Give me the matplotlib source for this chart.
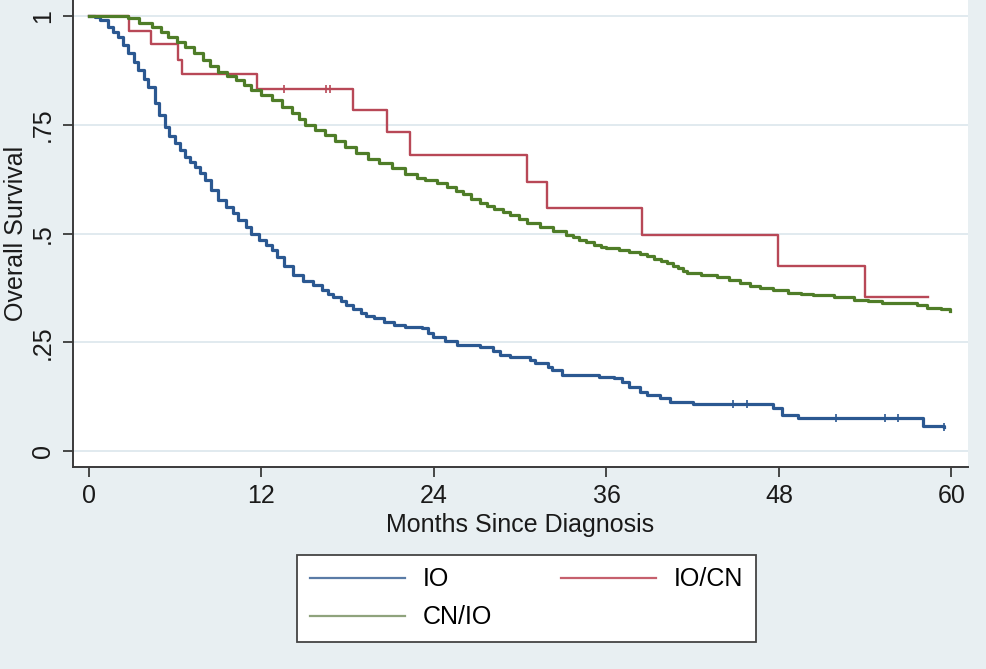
import matplotlib
matplotlib.use('Agg')
from matplotlib import pyplot as plt
from matplotlib.lines import Line2D

plt.rcParams['font.family'] = ['Liberation Sans', 'DejaVu Sans']

# Kaplan-Meier curves (months, survival)
io_t = [0, 0.4, 0.8, 1.3, 1.7, 2.0, 2.4, 2.7, 3.1, 3.4, 3.8, 4.1, 4.6, 4.9, 5.3,
        5.6, 6.0, 6.3, 6.7, 7.0, 7.4, 7.7, 8.1, 8.5, 9.0, 9.5, 10.0, 10.4, 10.9,
        11.3, 11.8, 12.3, 12.7, 13.1, 13.6, 14.2, 14.9, 15.6, 16.2, 16.6, 17.0,
        17.5, 17.9, 18.4, 18.9, 19.3, 19.8, 20.5, 21.2, 22.0, 23.2, 23.6, 23.9,
        24.8, 25.6, 27.2, 28.1, 28.6, 29.3, 30.7, 31.0, 31.9, 32.2, 32.9, 35.5,
        36.5, 37.1, 37.6, 38.3, 38.8, 39.7, 40.4, 42.0, 47.6, 48.2, 49.3, 58.0,
        59.5]
io_s = [1.0, 0.997, 0.99, 0.975, 0.963, 0.952, 0.934, 0.915, 0.895, 0.876,
        0.856, 0.837, 0.80, 0.772, 0.745, 0.725, 0.708, 0.692, 0.676, 0.665,
        0.653, 0.638, 0.623, 0.600, 0.577, 0.562, 0.547, 0.531, 0.515, 0.50,
        0.485, 0.473, 0.462, 0.446, 0.425, 0.405, 0.39, 0.382, 0.37, 0.362,
        0.354, 0.345, 0.335, 0.326, 0.317, 0.311, 0.305, 0.297, 0.29, 0.285,
        0.283, 0.272, 0.262, 0.252, 0.244, 0.239, 0.230, 0.221, 0.216, 0.209,
        0.202, 0.193, 0.186, 0.175, 0.170, 0.168, 0.159, 0.147, 0.136, 0.129,
        0.122, 0.113, 0.108, 0.099, 0.083, 0.076, 0.057, 0.055]
io_cens_t = [44.8, 45.8, 52.0, 55.4, 56.3, 59.5]
io_cens_s = [0.108, 0.108, 0.076, 0.076, 0.076, 0.055]

cnio_t = [0, 2.7, 3.5, 4.4, 5.0, 5.5, 6.1, 6.7, 7.3, 7.9, 8.4, 9.0, 9.6, 10.2,
          10.8, 11.3, 12.0, 12.7, 13.4, 14.1, 14.6, 15.0, 15.7, 16.4, 17.1, 17.8,
          18.6, 19.4, 20.2, 21.1, 22.0, 22.8, 23.4, 24.2, 24.9, 25.5, 26.0, 26.6,
          27.2, 27.7, 28.2, 28.8, 29.3, 29.9, 30.5, 31.4, 32.3, 33.2, 33.7, 34.1,
          34.6, 35.1, 35.6, 36.0, 36.9, 37.6, 38.3, 38.8, 39.3, 39.8, 40.2, 40.6,
          41.0, 41.3, 41.6, 42.6, 43.7, 44.5, 45.3, 46.0, 46.7, 47.6, 48.6, 49.5,
          50.4, 51.8, 53.2, 54.2, 55.2, 57.6, 58.3, 59.3, 59.9]
cnio_s = [1.0, 0.995, 0.985, 0.975, 0.963, 0.952, 0.94, 0.929, 0.914, 0.899,
          0.885, 0.871, 0.862, 0.853, 0.842, 0.83, 0.818, 0.807, 0.792, 0.777,
          0.763, 0.749, 0.737, 0.726, 0.712, 0.699, 0.686, 0.672, 0.662, 0.651,
          0.636, 0.628, 0.623, 0.615, 0.607, 0.598, 0.59, 0.58, 0.570, 0.563,
          0.556, 0.55, 0.543, 0.533, 0.524, 0.515, 0.506, 0.497, 0.491, 0.486,
          0.48, 0.474, 0.47, 0.467, 0.462, 0.457, 0.453, 0.448, 0.442, 0.437,
          0.432, 0.426, 0.42, 0.414, 0.409, 0.404, 0.4, 0.393, 0.386, 0.38,
          0.375, 0.369, 0.363, 0.361, 0.359, 0.353, 0.347, 0.344, 0.340, 0.336,
          0.329, 0.327, 0.322]

iocn_t = [0, 2.8, 4.3, 6.2, 6.5, 11.7, 18.4, 20.7, 22.3, 30.5, 31.85, 38.5,
          47.9, 54.0, 58.4]
iocn_s = [1.0, 0.966, 0.935, 0.9, 0.867, 0.832, 0.784, 0.733, 0.680, 0.618,
          0.559, 0.497, 0.425, 0.354, 0.354]
iocn_cens_t = [13.6, 16.5, 16.75]
iocn_cens_s = [0.832, 0.832, 0.832]

x_ticks = [0, 12, 24, 36, 48, 60]
y_ticks = [0, 0.25, 0.5, 0.75, 1]
y_tick_labels = ['0', '.25', '.5', '.75', '1']
labels = ['IO', 'CN/IO', 'IO/CN']

c_io = '#2b5891'
c_cnio = '#4f7d28'
c_iocn = '#b84857'
bg = '#e8eff2'
axis_col = '#3a3a3a'
fs = 18

fig = plt.figure(figsize=(9.86, 6.69), dpi=100, facecolor=bg)
ax = fig.add_axes([73 / 986, 1 - 467 / 669, (968 - 73) / 986, 467 / 669])
ax.set_facecolor('white')

ax.step(io_t, io_s, where='post', color=c_io, lw=2.3, zorder=3)
ax.step(cnio_t, cnio_s, where='post', color=c_cnio, lw=2.3, zorder=3)
ax.step(iocn_t, iocn_s, where='post', color=c_iocn, lw=1.7, zorder=2)
ax.plot(io_cens_t, io_cens_s, ls='none', marker='|', ms=6, mew=1.2, color=c_io, zorder=4)
ax.plot(iocn_cens_t, iocn_cens_s, ls='none', marker='|', ms=6, mew=1.2, color=c_iocn, zorder=4)

ax.set_xlim(-1.11, 61.15)
ax.set_ylim(-0.037, 1.037)
ax.set_xticks(x_ticks)
ax.set_yticks(y_ticks)
ax.set_yticklabels(y_tick_labels, rotation=90, va='center')
ax.grid(axis='y', color='#dbe6ec', lw=1.2, zorder=0)
ax.set_axisbelow(True)

for s in ['top', 'right']:
    ax.spines[s].set_visible(False)
for s in ['left', 'bottom']:
    ax.spines[s].set_color(axis_col)
    ax.spines[s].set_linewidth(1.4)

ax.tick_params(axis='both', length=7, width=1.3, color=axis_col,
               labelsize=fs, labelcolor='#1a1a1a')
ax.tick_params(axis='x', pad=5)
ax.tick_params(axis='y', pad=6)

ax.set_xlabel('Months Since Diagnosis', fontsize=fs, color='#1a1a1a')
ax.xaxis.set_label_coords(0.5, -0.098)
ax.set_ylabel('Overall Survival', fontsize=fs, color='#1a1a1a')
ax.yaxis.set_label_coords(-0.05, 0.5)

handles = [Line2D([], [], color='#5a7ba6', lw=1.6),
           Line2D([], [], color='#8fa37c', lw=1.6),
           Line2D([], [], color='#c6606d', lw=1.6)]
leg = fig.legend(handles, labels, loc='upper left',
                 bbox_to_anchor=(297 / 986, 1 - 555 / 669), ncol=2,
                 fontsize=fs, frameon=True, fancybox=False, edgecolor='#444444',
                 facecolor='white', framealpha=1, handlelength=3.8,
                 handletextpad=0.72, columnspacing=2.75, borderpad=0.5,
                 labelspacing=0.56, borderaxespad=0)
leg.get_frame().set_linewidth(1.3)

fig.savefig('out.png', dpi=100, facecolor=bg)
